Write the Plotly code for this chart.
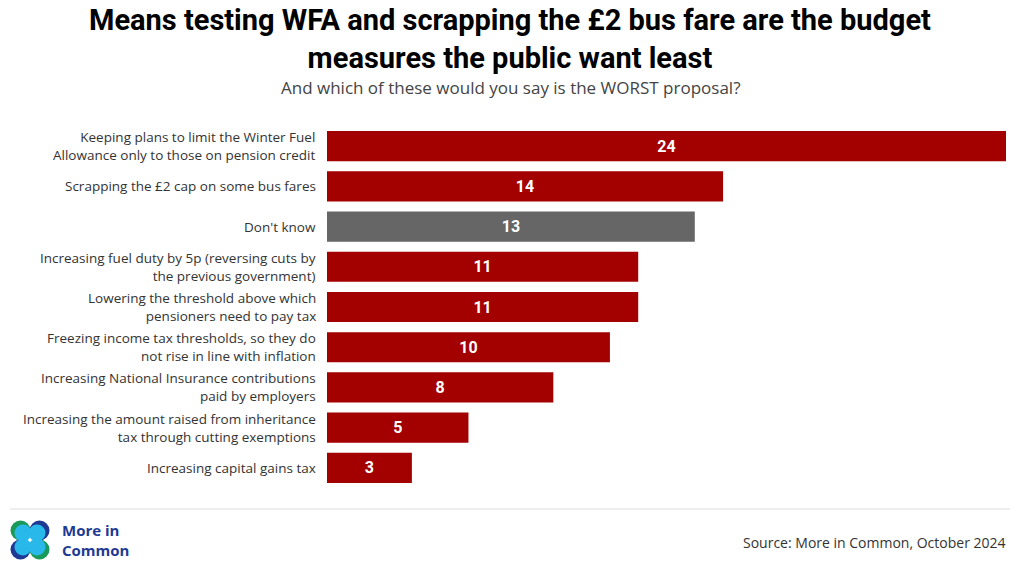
import plotly.graph_objects as go

categories = [
    "Keeping plans to limit the Winter Fuel\nAllowance only to those on pension credit",
    "Scrapping the £2 cap on some bus fares",
    "Don't know",
    "Increasing fuel duty by 5p (reversing cuts by\nthe previous government)",
    "Lowering the threshold above which\npensioners need to pay tax",
    "Freezing income tax thresholds, so they do\nnot rise in line with inflation",
    "Increasing National Insurance contributions\npaid by employers",
    "Increasing the amount raised from inheritance\ntax through cutting exemptions",
    "Increasing capital gains tax",
]
values = [24, 14, 13, 11, 11, 10, 8, 5, 3]
RED = "#A30000"
GREY = "#666666"
colors = [GREY if c == "Don't know" else RED for c in categories]

title_lines = ["Means testing WFA and scrapping the £2 bus fare are the budget",
               "measures the public want least"]
subtitle = "And which of these would you say is the WORST proposal?"
source = "Source: More in Common, October 2024"

# layout geometry (pixels)
WIDTH, HEIGHT = 1020, 574
L, R, T, B = 327, 14, 126, 86
PW = WIDTH - L - R
PH = HEIGHT - T - B
PLOT_BOTTOM = HEIGHT - B

def px(x):
    return (x - L) / PW

def py(y):
    return (PLOT_BOTTOM - y) / PH

ids = list(range(len(categories)))

fig = go.Figure(go.Bar(
    x=values, y=ids, orientation="h",
    marker=dict(color=colors, line=dict(width=0)),
    width=0.75,
    text=[str(v) for v in values],
    textposition="inside", insidetextanchor="middle",
    textfont=dict(family="Roboto", size=16, color="white", weight="bold"),
    cliponaxis=False,
))

annotations = []
for i, lab in enumerate(categories):
    annotations.append(dict(
        x=0, xref="paper", xanchor="right", xshift=-9,
        y=i, yref="y", yanchor="middle", align="right",
        text=lab.replace("\n", "<br>"), showarrow=False,
        font=dict(family="Open Sans", size=13.5, color="#333333"),
    ))

annotations.append(dict(
    x=px(510), xref="paper", xanchor="center",
    y=py(39), yref="paper", yanchor="middle",
    text="<br>".join(title_lines), showarrow=False,
    font=dict(family="Roboto", size=29, color="#000000", weight="bold"),
))

annotations.append(dict(
    x=px(510), xref="paper", xanchor="center",
    y=py(87), yref="paper", yanchor="middle",
    text=subtitle, showarrow=False,
    font=dict(family="Open Sans", size=17, color="#444444"),
))

annotations.append(dict(
    x=px(1008), xref="paper", xanchor="right",
    y=py(542), yref="paper", yanchor="middle",
    text=source, showarrow=False,
    font=dict(family="Open Sans", size=14, color="#333333"),
))

annotations.append(dict(
    x=px(60), xref="paper", xanchor="left",
    y=py(540), yref="paper", yanchor="middle", align="left",
    text="More in<br>Common", showarrow=False,
    font=dict(family="Open Sans", size=15, color="#1F3A93", weight="bold"),
))

shapes = [dict(type="line", xref="paper", yref="paper",
               x0=px(10), x1=px(1010), y0=py(509), y1=py(509),
               line=dict(color="#DDDDDD", width=1))]

def circle(cx, cy, r, color):
    return dict(type="circle", xref="paper", yref="paper",
                x0=px(cx - r), x1=px(cx + r), y0=py(cy + r), y1=py(cy - r),
                fillcolor=color, line=dict(width=0), layer="above")

NAVY = "#1F3A93"
GREEN = "#1A9A5A"
CYAN = "#29B8EA"
shapes += [
    circle(20.5, 530.5, 10, GREEN), circle(39.5, 530.5, 10, NAVY),
    circle(20.5, 549.5, 10, NAVY), circle(39.5, 549.5, 10, GREEN),
    circle(23, 533, 8.5, CYAN), circle(37, 533, 8.5, CYAN),
    circle(23, 547, 8.5, CYAN), circle(37, 547, 8.5, CYAN),
]

fig.update_layout(
    width=WIDTH, height=HEIGHT,
    margin=dict(l=L, r=R, t=T, b=B),
    paper_bgcolor="white", plot_bgcolor="white",
    showlegend=False,
    xaxis=dict(range=[0, 24], visible=False, fixedrange=True),
    yaxis=dict(range=[len(categories) - 0.5, -0.5], showticklabels=False,
               showgrid=False, zeroline=False, showline=False, ticks="",
               fixedrange=True),
    annotations=annotations,
    shapes=shapes,
    bargap=0.25,
)

fig.write_html("out.html", config={"displayModeBar": False})
